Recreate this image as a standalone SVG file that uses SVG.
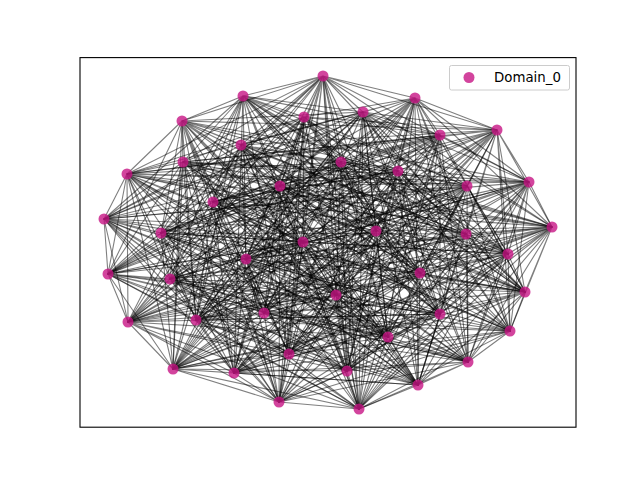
<svg xmlns="http://www.w3.org/2000/svg" width="640" height="480" viewBox="0 0 640 480">
<style>
.e{fill:none;stroke:#000;stroke-opacity:0.5;stroke-width:1.1;stroke-linejoin:round;stroke-linecap:round}
.n{fill:#c71585;fill-opacity:0.8}
.t{font-family:"DejaVu Sans",sans-serif;font-size:13.33px;fill:#000}
</style>
<rect x="0" y="0" width="640" height="480" fill="#fff"/>
<g id="edges">
<path class="e" d="M323 76L243 96 323 76 415 98 323 76 182 121 323 76 497 130 323 76 183 162 323 76 341 162 323 76 127 174 323 76 280 186 323 76 213 202 323 76 161 233 323 76 376 231 323 76 303 242 323 76 246 259 323 76 420 273 323 76 525 292 323 76 128 322 323 76 264 313 323 76 440 314 323 76 289 354 323 76 234 373 323 76 347 371 323 76 279 402 323 76 359 409"/>
<path class="e" d="M243 96L182 121 243 96 304 117 243 96 440 135 243 96 341 162 243 96 398 171 243 96 280 186 243 96 467 186 243 96 104 219 243 96 376 231 243 96 466 234 243 96 246 259 243 96 508 254 243 96 170 279 243 96 128 322 243 96 196 320 243 96 440 314 243 96 510 331 243 96 468 362 243 96 347 371 243 96 418 385 243 96 359 409"/>
<path class="e" d="M415 98L304 117 415 98 363 112 415 98 497 130 415 98 241 145 415 98 398 171 415 98 127 174 415 98 467 186 415 98 529 182 415 98 552 227 415 98 466 234 415 98 303 242 415 98 508 254 415 98 108 274 415 98 336 295 415 98 196 320 415 98 264 313 415 98 510 331 415 98 388 337 415 98 173 369 415 98 418 385 415 98 279 402"/>
<path class="e" d="M182 121L363 112 182 121 497 130 182 121 183 162 182 121 127 174 182 121 280 186 182 121 529 182 182 121 213 202 182 121 161 233 182 121 303 242 182 121 246 259 182 121 108 274 182 121 420 273 182 121 525 292 182 121 264 313 182 121 440 314 182 121 388 337 182 121 289 354 182 121 234 373 182 121 279 402 182 121 359 409"/>
<path class="e" d="M304 117L497 130 304 117 440 135 304 117 341 162 304 117 280 186 304 117 467 186 304 117 213 202 304 117 104 219 304 117 376 231 304 117 246 259 304 117 508 254 304 117 420 273 304 117 170 279 304 117 128 322 304 117 440 314 304 117 510 331 304 117 289 354 304 117 468 362 304 117 347 371 304 117 359 409"/>
<path class="e" d="M363 112L440 135 363 112 241 145 363 112 398 171 363 112 467 186 363 112 529 182 363 112 104 219 363 112 552 227 363 112 466 234 363 112 508 254 363 112 108 274 363 112 170 279 363 112 336 295 363 112 196 320 363 112 510 331 363 112 388 337 363 112 468 362 363 112 173 369 363 112 418 385"/>
<path class="e" d="M497 130L241 145 497 130 183 162 497 130 127 174 497 130 529 182 497 130 213 202 497 130 552 227 497 130 161 233 497 130 303 242 497 130 108 274 497 130 420 273 497 130 336 295 497 130 525 292 497 130 264 313 497 130 388 337 497 130 289 354 497 130 173 369 497 130 234 373 497 130 279 402"/>
<path class="e" d="M440 135L183 162 440 135 341 162 440 135 280 186 440 135 213 202 440 135 104 219 440 135 161 233 440 135 376 231 440 135 246 259 440 135 420 273 440 135 170 279 440 135 525 292 440 135 128 322 440 135 440 314 440 135 289 354 440 135 468 362 440 135 234 373 440 135 347 371 440 135 359 409"/>
<path class="e" d="M241 145L341 162 241 145 398 171 241 145 467 186 241 145 104 219 241 145 552 227 241 145 376 231 241 145 466 234 241 145 508 254 241 145 170 279 241 145 336 295 241 145 128 322 241 145 196 320 241 145 510 331 241 145 468 362 241 145 173 369 241 145 347 371 241 145 418 385"/>
<path class="e" d="M183 162L398 171 183 162 127 174 183 162 529 182 183 162 552 227 183 162 161 233 183 162 466 234 183 162 303 242 183 162 108 274 183 162 336 295 183 162 525 292 183 162 196 320 183 162 264 313 183 162 388 337 183 162 173 369 183 162 234 373 183 162 418 385 183 162 279 402"/>
<path class="e" d="M341 162L127 174 341 162 280 186 341 162 213 202 341 162 161 233 341 162 376 231 341 162 303 242 341 162 246 259 341 162 420 273 341 162 525 292 341 162 128 322 341 162 264 313 341 162 440 314 341 162 289 354 341 162 234 373 341 162 347 371 341 162 279 402 341 162 359 409"/>
<path class="e" d="M398 171L280 186 398 171 467 186 398 171 104 219 398 171 376 231 398 171 466 234 398 171 246 259 398 171 508 254 398 171 170 279 398 171 128 322 398 171 196 320 398 171 440 314 398 171 510 331 398 171 468 362 398 171 347 371 398 171 418 385 398 171 359 409"/>
<path class="e" d="M127 174L467 186 127 174 529 182 127 174 104 219 127 174 552 227 127 174 466 234 127 174 303 242 127 174 508 254 127 174 108 274 127 174 336 295 127 174 196 320 127 174 264 313 127 174 510 331 127 174 388 337 127 174 173 369 127 174 418 385 127 174 279 402"/>
<path class="e" d="M280 186L529 182 280 186 213 202 280 186 161 233 280 186 303 242 280 186 246 259 280 186 108 274 280 186 420 273 280 186 525 292 280 186 264 313 280 186 440 314 280 186 388 337 280 186 289 354 280 186 234 373 280 186 279 402 280 186 359 409"/>
<path class="e" d="M467 186L213 202 467 186 104 219 467 186 376 231 467 186 246 259 467 186 508 254 467 186 420 273 467 186 170 279 467 186 128 322 467 186 440 314 467 186 510 331 467 186 289 354 467 186 468 362 467 186 347 371 467 186 359 409"/>
<path class="e" d="M529 182L104 219 529 182 552 227 529 182 466 234 529 182 508 254 529 182 108 274 529 182 170 279 529 182 336 295 529 182 196 320 529 182 510 331 529 182 388 337 529 182 468 362 529 182 173 369 529 182 418 385"/>
<path class="e" d="M213 202L552 227 213 202 161 233 213 202 303 242 213 202 108 274 213 202 420 273 213 202 336 295 213 202 525 292 213 202 264 313 213 202 388 337 213 202 289 354 213 202 173 369 213 202 234 373 213 202 279 402"/>
<path class="e" d="M104 219L161 233 104 219 376 231 104 219 246 259 104 219 108 274 104 219 420 273 104 219 170 279 104 219 525 292 104 219 128 322 104 219 440 314 104 219 289 354 104 219 468 362 104 219 234 373 104 219 347 371 104 219 359 409"/>
<path class="e" d="M552 227L376 231 552 227 466 234 552 227 508 254 552 227 170 279 552 227 336 295 552 227 525 292 552 227 128 322 552 227 196 320 552 227 510 331 552 227 468 362 552 227 173 369 552 227 347 371 552 227 418 385"/>
<path class="e" d="M161 233L466 234 161 233 303 242 161 233 108 274 161 233 336 295 161 233 525 292 161 233 196 320 161 233 264 313 161 233 388 337 161 233 173 369 161 233 234 373 161 233 418 385 161 233 279 402"/>
<path class="e" d="M376 231L303 242 376 231 246 259 376 231 420 273 376 231 525 292 376 231 128 322 376 231 264 313 376 231 440 314 376 231 289 354 376 231 234 373 376 231 347 371 376 231 279 402 376 231 359 409"/>
<path class="e" d="M466 234L246 259 466 234 508 254 466 234 170 279 466 234 128 322 466 234 196 320 466 234 440 314 466 234 510 331 466 234 468 362 466 234 347 371 466 234 418 385 466 234 359 409"/>
<path class="e" d="M303 242L508 254 303 242 108 274 303 242 336 295 303 242 196 320 303 242 264 313 303 242 510 331 303 242 388 337 303 242 173 369 303 242 418 385 303 242 279 402"/>
<path class="e" d="M246 259L108 274 246 259 420 273 246 259 525 292 246 259 264 313 246 259 440 314 246 259 388 337 246 259 289 354 246 259 234 373 246 259 279 402 246 259 359 409"/>
<path class="e" d="M508 254L420 273 508 254 170 279 508 254 128 322 508 254 440 314 508 254 510 331 508 254 289 354 508 254 468 362 508 254 347 371 508 254 359 409"/>
<path class="e" d="M108 274L170 279 108 274 336 295 108 274 128 322 108 274 196 320 108 274 510 331 108 274 388 337 108 274 468 362 108 274 173 369 108 274 418 385"/>
<path class="e" d="M420 273L336 295 420 273 525 292 420 273 264 313 420 273 388 337 420 273 289 354 420 273 173 369 420 273 234 373 420 273 279 402"/>
<path class="e" d="M170 279L525 292 170 279 128 322 170 279 440 314 170 279 289 354 170 279 468 362 170 279 234 373 170 279 347 371 170 279 359 409"/>
<path class="e" d="M336 295L128 322 336 295 196 320 336 295 510 331 336 295 468 362 336 295 173 369 336 295 347 371 336 295 418 385"/>
<path class="e" d="M525 292L196 320 525 292 264 313 525 292 510 331 525 292 388 337 525 292 173 369 525 292 234 373 525 292 418 385 525 292 279 402"/>
<path class="e" d="M128 322L264 313 128 322 440 314 128 322 289 354 128 322 173 369 128 322 234 373 128 322 347 371 128 322 279 402 128 322 359 409"/>
<path class="e" d="M196 320L440 314 196 320 510 331 196 320 468 362 196 320 347 371 196 320 418 385 196 320 359 409"/>
<path class="e" d="M264 313L510 331 264 313 388 337 264 313 173 369 264 313 418 385 264 313 279 402"/>
<path class="e" d="M440 314L388 337 440 314 289 354 440 314 234 373 440 314 279 402 440 314 359 409"/>
<path class="e" d="M510 331L289 354 510 331 468 362 510 331 347 371 510 331 359 409"/>
<path class="e" d="M388 337L468 362 388 337 173 369 388 337 418 385"/>
<path class="e" d="M289 354L173 369 289 354 234 373 289 354 279 402"/>
<path class="e" d="M468 362L234 373 468 362 347 371 468 362 418 385 468 362 359 409"/>
<path class="e" d="M173 369L347 371 173 369 418 385 173 369 279 402"/>
<path class="e" d="M234 373L418 385 234 373 279 402"/>
<path class="e" d="M347 371L279 402 347 371 359 409"/>
<path class="e" d="M418 385L359 409"/>
<path class="e" d="M279 402L359 409"/>
<path class="e" d="M323 76L363 112 323 76 241 145 323 76 529 182 323 76 552 227 323 76 108 274 323 76 336 295 323 76 388 337 323 76 173 369"/>
<path class="e" d="M243 96L497 130 243 96 183 162 243 96 213 202 243 96 161 233 243 96 420 273 243 96 525 292 243 96 289 354 243 96 234 373"/>
<path class="e" d="M415 98L440 135 415 98 341 162 415 98 104 219 415 98 376 231 415 98 170 279 415 98 128 322 415 98 468 362 415 98 347 371"/>
<path class="e" d="M182 121L241 145 182 121 398 171 182 121 552 227 182 121 466 234 182 121 336 295 182 121 196 320 182 121 173 369 182 121 418 385"/>
<path class="e" d="M304 117L183 162 304 117 127 174 304 117 161 233 304 117 303 242 304 117 525 292 304 117 264 313 304 117 234 373 304 117 279 402"/>
<path class="e" d="M363 112L341 162 363 112 280 186 363 112 376 231 363 112 246 259 363 112 128 322 363 112 440 314 363 112 347 371 363 112 359 409"/>
<path class="e" d="M497 130L398 171 497 130 467 186 497 130 466 234 497 130 508 254 497 130 196 320 497 130 510 331 497 130 418 385"/>
<path class="e" d="M440 135L127 174 440 135 529 182 440 135 303 242 440 135 108 274 440 135 264 313 440 135 388 337 440 135 279 402"/>
<path class="e" d="M241 145L280 186 241 145 213 202 241 145 246 259 241 145 420 273 241 145 440 314 241 145 289 354 241 145 359 409"/>
<path class="e" d="M183 162L467 186 183 162 104 219 183 162 508 254 183 162 170 279 183 162 510 331 183 162 468 362"/>
<path class="e" d="M341 162L529 182 341 162 552 227 341 162 108 274 341 162 336 295 341 162 388 337 341 162 173 369"/>
<path class="e" d="M398 171L213 202 398 171 161 233 398 171 420 273 398 171 525 292 398 171 289 354 398 171 234 373"/>
<path class="e" d="M127 174L376 231 127 174 170 279 127 174 128 322 127 174 468 362 127 174 347 371"/>
<path class="e" d="M280 186L552 227 280 186 466 234 280 186 336 295 280 186 196 320 280 186 173 369 280 186 418 385"/>
<path class="e" d="M467 186L161 233 467 186 303 242 467 186 525 292 467 186 264 313 467 186 234 373 467 186 279 402"/>
<path class="e" d="M529 182L376 231 529 182 246 259 529 182 128 322 529 182 440 314 529 182 347 371 529 182 359 409"/>
<path class="e" d="M213 202L466 234 213 202 508 254 213 202 196 320 213 202 510 331 213 202 418 385"/>
<path class="e" d="M104 219L303 242 104 219 264 313 104 219 388 337 104 219 279 402"/>
<path class="e" d="M552 227L246 259 552 227 420 273 552 227 440 314 552 227 289 354 552 227 359 409"/>
<path class="e" d="M161 233L508 254 161 233 170 279 161 233 510 331 161 233 468 362"/>
<path class="e" d="M376 231L108 274 376 231 336 295 376 231 388 337 376 231 173 369"/>
<path class="e" d="M466 234L420 273 466 234 525 292 466 234 289 354 466 234 234 373"/>
<path class="e" d="M303 242L170 279 303 242 128 322 303 242 468 362 303 242 347 371"/>
<path class="e" d="M246 259L336 295 246 259 196 320 246 259 173 369 246 259 418 385"/>
<path class="e" d="M508 254L525 292 508 254 264 313 508 254 234 373 508 254 279 402"/>
<path class="e" d="M108 274L440 314 108 274 347 371 108 274 359 409"/>
<path class="e" d="M420 273L196 320 420 273 510 331 420 273 418 385"/>
<path class="e" d="M170 279L264 313 170 279 388 337 170 279 279 402"/>
<path class="e" d="M336 295L440 314 336 295 289 354 336 295 359 409"/>
<path class="e" d="M525 292L468 362"/>
<path class="e" d="M128 322L388 337"/>
<path class="e" d="M196 320L289 354 196 320 234 373"/>
<path class="e" d="M264 313L468 362 264 313 347 371"/>
<path class="e" d="M440 314L173 369 440 314 418 385"/>
<path class="e" d="M510 331L234 373 510 331 279 402"/>
<path class="e" d="M388 337L347 371 388 337 359 409"/>
<path class="e" d="M289 354L418 385"/>
<path class="e" d="M468 362L279 402"/>
<path class="e" d="M173 369L359 409"/>
</g>
<g id="nodes">
<g id="n0"><circle class="n" cx="323" cy="76" r="5.5"/></g>
<g id="n1"><circle class="n" cx="243" cy="96" r="5.5"/></g>
<g id="n2"><circle class="n" cx="415" cy="98" r="5.5"/></g>
<g id="n3"><circle class="n" cx="182" cy="121" r="5.5"/></g>
<g id="n4"><circle class="n" cx="304" cy="117" r="5.5"/></g>
<g id="n5"><circle class="n" cx="363" cy="112" r="5.5"/></g>
<g id="n6"><circle class="n" cx="497" cy="130" r="5.5"/></g>
<g id="n7"><circle class="n" cx="440" cy="135" r="5.5"/></g>
<g id="n8"><circle class="n" cx="241" cy="145" r="5.5"/></g>
<g id="n9"><circle class="n" cx="183" cy="162" r="5.5"/></g>
<g id="n10"><circle class="n" cx="341" cy="162" r="5.5"/></g>
<g id="n11"><circle class="n" cx="398" cy="171" r="5.5"/></g>
<g id="n12"><circle class="n" cx="127" cy="174" r="5.5"/></g>
<g id="n13"><circle class="n" cx="280" cy="186" r="5.5"/></g>
<g id="n14"><circle class="n" cx="467" cy="186" r="5.5"/></g>
<g id="n15"><circle class="n" cx="529" cy="182" r="5.5"/></g>
<g id="n16"><circle class="n" cx="213" cy="202" r="5.5"/></g>
<g id="n17"><circle class="n" cx="104" cy="219" r="5.5"/></g>
<g id="n18"><circle class="n" cx="552" cy="227" r="5.5"/></g>
<g id="n19"><circle class="n" cx="161" cy="233" r="5.5"/></g>
<g id="n20"><circle class="n" cx="376" cy="231" r="5.5"/></g>
<g id="n21"><circle class="n" cx="466" cy="234" r="5.5"/></g>
<g id="n22"><circle class="n" cx="303" cy="242" r="5.5"/></g>
<g id="n23"><circle class="n" cx="246" cy="259" r="5.5"/></g>
<g id="n24"><circle class="n" cx="508" cy="254" r="5.5"/></g>
<g id="n25"><circle class="n" cx="108" cy="274" r="5.5"/></g>
<g id="n26"><circle class="n" cx="420" cy="273" r="5.5"/></g>
<g id="n27"><circle class="n" cx="170" cy="279" r="5.5"/></g>
<g id="n28"><circle class="n" cx="336" cy="295" r="5.5"/></g>
<g id="n29"><circle class="n" cx="525" cy="292" r="5.5"/></g>
<g id="n30"><circle class="n" cx="128" cy="322" r="5.5"/></g>
<g id="n31"><circle class="n" cx="196" cy="320" r="5.5"/></g>
<g id="n32"><circle class="n" cx="264" cy="313" r="5.5"/></g>
<g id="n33"><circle class="n" cx="440" cy="314" r="5.5"/></g>
<g id="n34"><circle class="n" cx="510" cy="331" r="5.5"/></g>
<g id="n35"><circle class="n" cx="388" cy="337" r="5.5"/></g>
<g id="n36"><circle class="n" cx="289" cy="354" r="5.5"/></g>
<g id="n37"><circle class="n" cx="468" cy="362" r="5.5"/></g>
<g id="n38"><circle class="n" cx="173" cy="369" r="5.5"/></g>
<g id="n39"><circle class="n" cx="234" cy="373" r="5.5"/></g>
<g id="n40"><circle class="n" cx="347" cy="371" r="5.5"/></g>
<g id="n41"><circle class="n" cx="418" cy="385" r="5.5"/></g>
<g id="n42"><circle class="n" cx="279" cy="402" r="5.5"/></g>
<g id="n43"><circle class="n" cx="359" cy="409" r="5.5"/></g>
</g>
<rect x="80" y="57.6" width="496" height="369.6" fill="none" stroke="#000" stroke-width="1.1"/>
<g id="legend">
<rect x="449.5" y="65.5" width="120" height="24.5" rx="2" fill="#fff" fill-opacity="0.8" stroke="#ccc" stroke-width="1"/>
<circle class="n" cx="469" cy="77.5" r="5.5"/>
<text class="t" x="494" y="82">Domain_0</text>
</g>
</svg>
